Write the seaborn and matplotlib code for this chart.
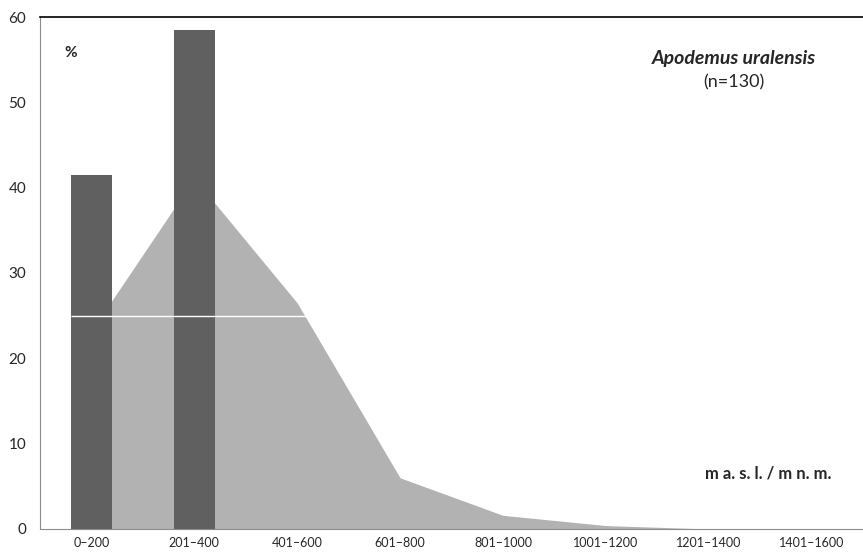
import numpy as np
import pandas as pd
import matplotlib
matplotlib.use("Agg")
import matplotlib.pyplot as plt
import seaborn as sns

# altitude classes (m a.s.l.)
categories = ["0–200", "201–400", "401–600", "601–800", "801–1000",
              "1001–1200", "1201–1400", "1401–1600"]
# share of captures, Apodemus uralensis (bars)
species_pct = [41.5, 58.5, 0, 0, 0, 0, 0, 0]
# share of all sampled sites / background (grey area)
background_pct = [23.2, 41.1, 26.5, 6.0, 1.6, 0.4, 0.0, 0.0]

df = pd.DataFrame({"alt": categories, "pct": species_pct})

sns.set_style("white")
plt.rcParams["font.family"] = ["Lato", "DejaVu Sans"]

fig = plt.figure(figsize=(8.63, 5.52), dpi=100)
ax = fig.add_axes([0.0463, 0.0417, 0.9537, 0.9275])

# area behind the bars
ax.fill_between(np.arange(len(categories)), background_pct, color="#b2b2b2",
                linewidth=0, zorder=1)

sns.barplot(data=df, x="alt", y="pct", color="#606060", width=0.4,
            saturation=1, linewidth=0, edgecolor="none", ax=ax, zorder=2)

# thin white rule seen in the original
ax.hlines(25, -0.2, 2.1, color="white", linewidth=1, zorder=3)

ax.set_xlim(-0.5, 7.5)
ax.set_ylim(0, 60)
ax.set_yticks(range(0, 61, 10))
ax.set_xlabel("")
ax.set_ylabel("")

ax.spines["right"].set_visible(False)
ax.spines["top"].set_color("black")
ax.spines["top"].set_linewidth(1.2)
ax.spines["left"].set_color("#8c8c8c")
ax.spines["bottom"].set_color("#8c8c8c")

ax.tick_params(axis="x", which="major", length=0, labelsize=9, pad=6)
ax.set_xticks([-0.5, 1.5, 3.5, 5.5], minor=True)
ax.tick_params(axis="x", which="minor", direction="inout", length=8,
               color="#8c8c8c")
ax.tick_params(axis="y", direction="inout", length=8, color="#8c8c8c",
               labelsize=11, pad=6)

ax.text(0.03, 0.93, "%", transform=ax.transAxes, fontsize=11,
        fontweight="bold", ha="left", va="center")
ax.text(0.843, 0.918, "Apodemus uralensis", transform=ax.transAxes,
        fontsize=14, fontweight="bold", fontstyle="italic", ha="center",
        va="center")
ax.text(0.843, 0.873, "(n=130)", transform=ax.transAxes, fontsize=13,
        ha="center", va="center")
ax.text(0.885, 0.109, "m a. s. l. / m n. m.", transform=ax.transAxes,
        fontsize=12, fontweight="bold", ha="center", va="center")

fig.savefig("out.png", dpi=100)
